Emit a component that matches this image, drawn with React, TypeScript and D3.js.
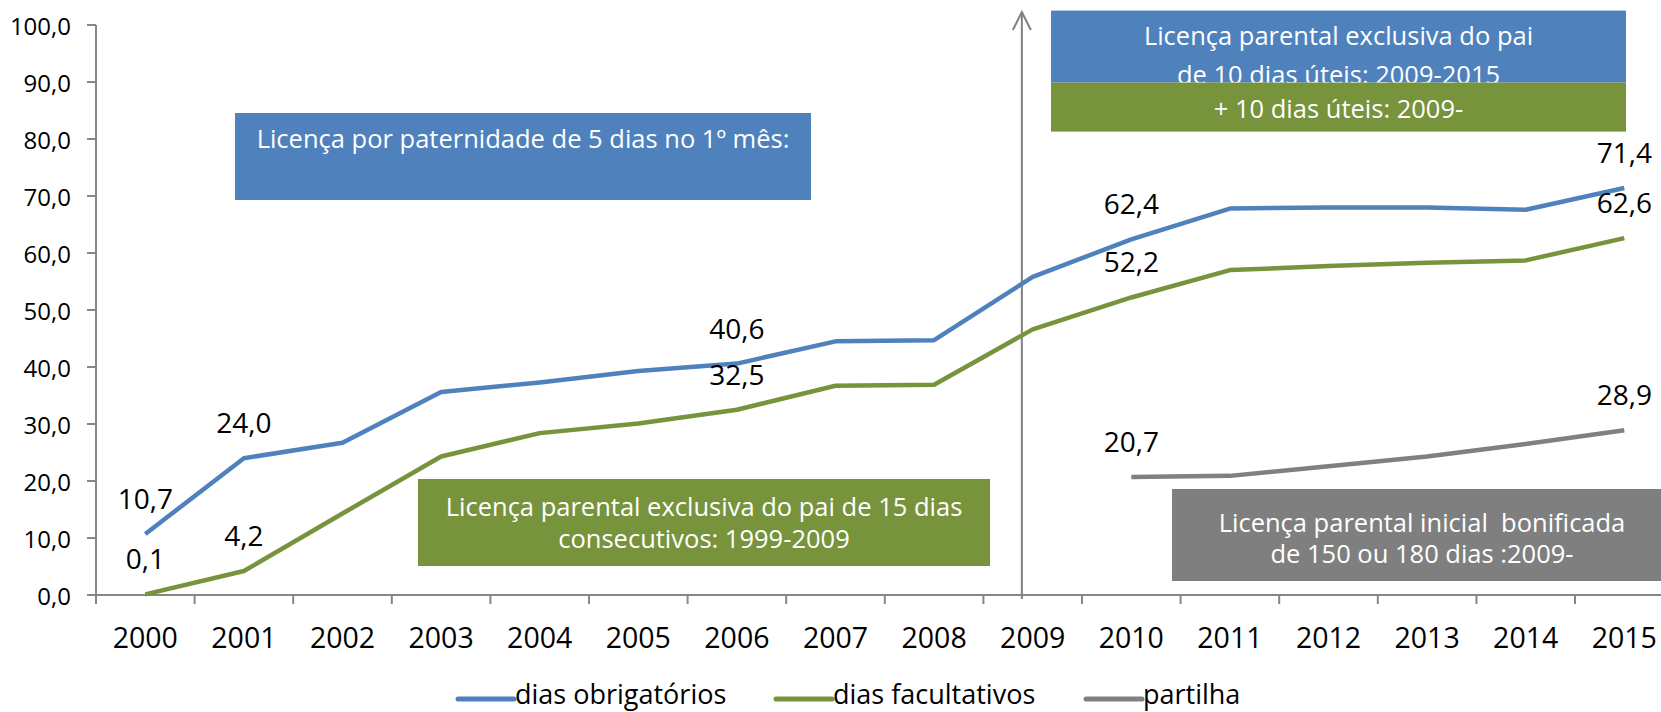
import React from 'react';
import * as d3 from 'd3';

// ---------- data ----------
const years = ['2000', '2001', '2002', '2003', '2004', '2005', '2006', '2007', '2008', '2009', '2010', '2011', '2012', '2013', '2014', '2015'];
const diasObrigatorios = [10.7, 24.0, 26.7, 35.6, 37.3, 39.3, 40.6, 44.5, 44.7, 55.8, 62.4, 67.8, 68.0, 68.0, 67.6, 71.4];
const diasFacultativos = [0.1, 4.2, 14.3, 24.3, 28.4, 30.1, 32.5, 36.7, 36.9, 46.6, 52.2, 57.0, 57.7, 58.3, 58.7, 62.6];
const partilha: (number | null)[] = [null, null, null, null, null, null, null, null, null, null, 20.7, 20.9, 22.6, 24.3, 26.5, 28.9];
const yTicks = [0, 10, 20, 30, 40, 50, 60, 70, 80, 90, 100];
const labelYearsObrig = ['2000', '2001', '2006', '2010', '2015'];
const labelYearsFacult = ['2000', '2001', '2006', '2010', '2015'];
const labelYearsPartilha = ['2010', '2015'];
const seriesNames = ['dias obrigatórios', 'dias facultativos', 'partilha'];

const BLUE = '#4F81BD';
const GREEN = '#77933C';
const GREY = '#808080';
const AXIS = '#868686';
const FONT = '"Open Sans", sans-serif';

const W = 1661;
const H = 712;

const locale = d3.formatLocale({ decimal: ',', thousands: '.', grouping: [3], currency: ['', '€'] });
const fmt = locale.format('.1f');

export default function App() {
  const band = 98.6;
  const x0 = 96;
  const x = d3.scaleBand<string>().domain(years).range([x0, x0 + band * years.length]).padding(0);
  const y = d3.scaleLinear().domain([0, 100]).range([595, 25]);
  const cx = (yr: string) => (x(yr) as number) + x.bandwidth() / 2;

  const line = d3
    .line<number | null>()
    .defined((d) => d !== null)
    .x((_, i) => cx(years[i]))
    .y((d) => y(d as number));

  const series = [
    { values: diasObrigatorios as (number | null)[], color: BLUE, labels: labelYearsObrig },
    { values: diasFacultativos as (number | null)[], color: GREEN, labels: labelYearsFacult },
    { values: partilha, color: GREY, labels: labelYearsPartilha },
  ];

  const tickEdges = years.map((yr) => x(yr) as number).concat([x0 + band * years.length]);
  const arrowX = cx('2009') - 0.11 * x.bandwidth();

  const legendX = [458, 776, 1086];
  const legendColors = [BLUE, GREEN, GREY];

  const annText = {
    fill: '#fff',
    fontFamily: FONT,
    fontSize: 25.5,
    textAnchor: 'middle' as const,
    dominantBaseline: 'central' as const,
    style: { whiteSpace: 'pre' as const },
  };

  return (
    <svg width={W} height={H} style={{ position: 'absolute', left: 0, top: 0, background: '#fff', overflow: 'hidden' }}>
      {/* Y axis */}
      <line x1={x0} x2={x0} y1={y(100)} y2={y(0)} stroke={AXIS} strokeWidth={2} />
      {yTicks.map((t) => (
        <g key={t}>
          <line x1={x0 - 9} x2={x0} y1={y(t)} y2={y(t)} stroke={AXIS} strokeWidth={2} />
          <text x={71} y={y(t)} textAnchor="end" dominantBaseline="central" fontFamily={FONT} fontSize={24} fill="#000">
            {fmt(t)}
          </text>
        </g>
      ))}
      {/* X axis */}
      <line x1={x0 - 9} x2={W + 20} y1={y(0)} y2={y(0)} stroke={AXIS} strokeWidth={2} />
      {tickEdges.map((tx, i) => (
        <line key={i} x1={tx} x2={tx} y1={y(0)} y2={y(0) + 9} stroke={AXIS} strokeWidth={2} />
      ))}
      {years.map((yr) => (
        <text key={yr} x={cx(yr)} y={637} textAnchor="middle" dominantBaseline="central" fontFamily={FONT} fontSize={28.5} fill="#000">
          {yr}
        </text>
      ))}

      {/* Annotation boxes */}
      <rect x={235} y={113} width={576} height={87} fill={BLUE} />
      <text {...annText} x={523} y={138}>Licença por paternidade de 5 dias no 1º mês:</text>

      <rect x={418} y={479} width={572} height={87} fill={GREEN} />
      <text {...annText} x={704} y={506}>Licença parental exclusiva do pai de 15 dias</text>
      <text {...annText} x={704} y={537.5}>consecutivos: 1999-2009</text>

      <rect x={1172} y={489} width={500} height={92} fill="#7F7F7F" />
      <text {...annText} x={1422} y={522}>Licença parental inicial  bonificada</text>
      <text {...annText} x={1422} y={553}>de 150 ou 180 dias :2009-</text>

      <rect x={1051} y={10.6} width={575} height={72} fill={BLUE} />
      <text {...annText} x={1338.5} y={35}>Licença parental exclusiva do pai</text>
      <text {...annText} x={1338.5} y={74}>de 10 dias úteis: 2009-2015</text>
      <rect x={1051} y={82.6} width={575} height={49} fill={GREEN} />
      <text {...annText} x={1338.5} y={108}>+ 10 dias úteis: 2009-</text>

      {/* Vertical arrow */}
      <line x1={arrowX} x2={arrowX} y1={y(0) + 4} y2={12} stroke={GREY} strokeWidth={2} />
      <polyline points={`${arrowX - 9},${30} ${arrowX},${12} ${arrowX + 9},${30}`} fill="none" stroke={GREY} strokeWidth={2} />

      {/* Series */}
      {series.map((s, si) => (
        <path key={si} d={line(s.values) || ''} fill="none" stroke={s.color} strokeWidth={4.5} strokeLinejoin="round" />
      ))}
      {series.map((s, si) =>
        s.labels.map((yr) => {
          const v = s.values[years.indexOf(yr)] as number;
          return (
            <text key={si + yr} x={cx(yr)} y={y(v) - 36} textAnchor="middle" dominantBaseline="central" fontFamily={FONT} fontSize={28} fill="#000">
              {fmt(v)}
            </text>
          );
        })
      )}

      {/* Legend */}
      {seriesNames.map((n, i) => (
        <g key={n}>
          <line x1={legendX[i]} x2={legendX[i] + 56} y1={699} y2={699} stroke={legendColors[i]} strokeWidth={5} strokeLinecap="round" />
          <text x={legendX[i] + 57} y={704} fontFamily={FONT} fontSize={27} fill="#000">
            {n}
          </text>
        </g>
      ))}
    </svg>
  );
}
